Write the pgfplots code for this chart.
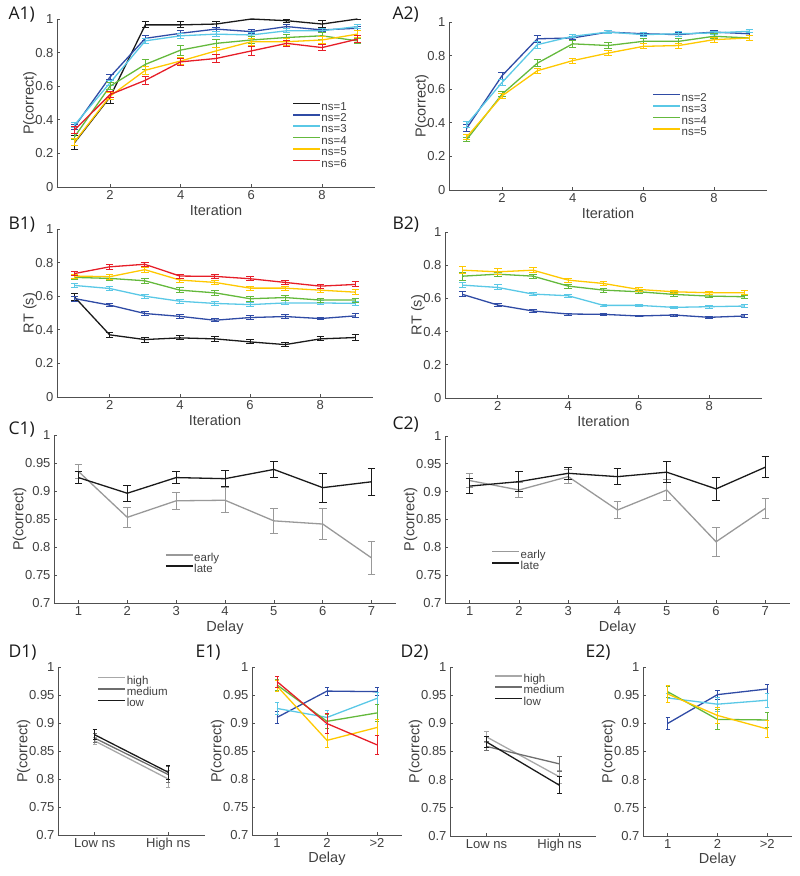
\documentclass[border=0pt]{standalone}
\usepackage{pgfplots}
\pgfplotsset{compat=1.18}
\usepackage{fontspec}
\setmainfont{Liberation Sans}
\newfontfamily\panelfont{Open Sans}
\definecolor{axc}{HTML}{505050}
\definecolor{txc}{HTML}{404040}
\definecolor{cblack}{HTML}{1A1A1A}
\definecolor{cblue}{HTML}{2F4BA5}
\definecolor{clblue}{HTML}{5AC8E6}
\definecolor{cgreen}{HTML}{64B93C}
\definecolor{cyellow}{HTML}{FFC800}
\definecolor{cred}{HTML}{E61E28}
\definecolor{cearly}{HTML}{999999}
\definecolor{dhigh}{HTML}{A8A8A8}
\definecolor{dmed}{HTML}{6E6E6E}
\definecolor{dlow}{HTML}{1A1A1A}
\newcommand\ftk{\fontsize{13}{13}\selectfont}
\newcommand\flb{\fontsize{14.5}{14.5}\selectfont}
\newcommand\flg{\fontsize{11.5}{11.5}\selectfont}
\newcommand\fpl{\panelfont\fontsize{17.5}{17.5}\selectfont}
\pgfplotsset{
 panel/.style={scale only axis, axis lines=left,
   axis line style={-,draw=axc,line width=0.7pt},
   every tick/.append style={draw=axc,line width=0.7pt},
   tick align=inside, major tick length=3pt,
   ticklabel style={font=\ftk,text=txc},
   every axis label/.append style={font=\flb,text=txc},
   ylabel shift=-8pt, xlabel shift=-2pt,
   /pgf/number format/assume math mode=true,
   /pgf/number format/fixed,
   clip=false,
   legend style={draw=none,fill=none,font=\flg,text=txc,anchor=north west,
     inner sep=0pt,outer sep=0pt,row sep=0pt,
     nodes={inner sep=0.5pt,text height=8.2pt,text depth=2.2pt}},
   legend cell align=left,
   legend image code/.code={\draw[##1,line width=1.6pt] (0pt,3.6pt) -- (27pt,3.6pt);}},
 ser/.style={color=#1,line width=1.3pt,mark=none,
   error bars/.cd,y dir=both,y explicit,
   error bar style={line width=1pt,color=#1},
   error mark options={rotate=90,line width=1pt,mark size=3.8pt,color=#1}},
 sers/.style={color=#1,line width=1.3pt,mark=none,
   error bars/.cd,y dir=both,y explicit,
   error bar style={line width=0.9pt,color=#1},
   error mark options={rotate=90,line width=0.9pt,mark size=2.2pt,color=#1}},
 pA/.style={panel,xmin=0.5,xmax=9.5,ymin=0,ymax=1,xtick={2,4,6,8},
   ytick={0,0.2,0.4,0.6,0.8,1},xlabel={Iteration}},
 pC/.style={panel,xmin=0.5,xmax=7.5,ymin=0.7,ymax=1,xtick={1,2,3,4,5,6,7},
   ytick={0.7,0.75,0.8,0.85,0.9,0.95,1},xlabel={Delay},ylabel={P(correct)}},
 pD/.style={panel,xmin=0.5,xmax=2.5,ymin=0.7,ymax=1,xtick={1,2},
   xticklabels={Low ns,High ns},
   ytick={0.7,0.75,0.8,0.85,0.9,0.95,1},ylabel={P(correct)}},
 pE/.style={panel,xmin=0.5,xmax=3.5,ymin=0.7,ymax=1,xtick={1,2,3},
   xticklabels={1,2,{>2}},
   ytick={0.7,0.75,0.8,0.85,0.9,0.95,1},xlabel={Delay},ylabel={P(correct)}},
}
\begin{document}
\begin{tikzpicture}
\useasboundingbox (0,0) rectangle (800pt,-876pt);
% ---------------- A1
\begin{axis}[pA,at={(57pt,-187pt)},anchor=south west,width=318pt,height=168pt,
  ylabel={P(correct)},legend style={at={(0.74,0.51)}}]
\addplot[ser=cblack] table[row sep=\\,y error index=2]{1 0.265 0.04\\2 0.535 0.035\\3 0.965 0.018\\4 0.965 0.018\\5 0.97 0.018\\6 1.0 0\\7 0.99 0.01\\8 0.97 0.02\\9 1.0 0\\};
\addplot[ser=cblue] table[row sep=\\,y error index=2]{1 0.36 0.015\\2 0.655 0.015\\3 0.885 0.015\\4 0.915 0.015\\5 0.94 0.012\\6 0.925 0.012\\7 0.955 0.01\\8 0.935 0.01\\9 0.945 0.012\\};
\addplot[ser=clblue] table[row sep=\\,y error index=2]{1 0.37 0.015\\2 0.62 0.015\\3 0.87 0.015\\4 0.9 0.015\\5 0.91 0.015\\6 0.905 0.012\\7 0.93 0.012\\8 0.93 0.012\\9 0.955 0.01\\};
\addplot[ser=cgreen] table[row sep=\\,y error index=2]{1 0.30 0.02\\2 0.60 0.02\\3 0.73 0.03\\4 0.815 0.03\\5 0.855 0.025\\6 0.875 0.02\\7 0.89 0.02\\8 0.9 0.02\\9 0.87 0.015\\};
\addplot[ser=cyellow] table[row sep=\\,y error index=2]{1 0.27 0.02\\2 0.54 0.02\\3 0.695 0.025\\4 0.75 0.02\\5 0.81 0.02\\6 0.865 0.02\\7 0.865 0.02\\8 0.875 0.02\\9 0.91 0.02\\};
\addplot[ser=cred] table[row sep=\\,y error index=2]{1 0.34 0.02\\2 0.55 0.02\\3 0.635 0.025\\4 0.745 0.02\\5 0.765 0.025\\6 0.81 0.025\\7 0.855 0.02\\8 0.83 0.02\\9 0.88 0.02\\};
\legend{ns=1,ns=2,ns=3,ns=4,ns=5,ns=6}
\end{axis}
% ---------------- A2
\begin{axis}[pA,at={(449pt,-190pt)},anchor=south west,width=318pt,height=168pt,
  ylabel={P(correct)},legend style={at={(0.64,0.58)}}]
\addplot[ser=cblue] table[row sep=\\,y error index=2]{1 0.367 0.02\\2 0.68 0.02\\3 0.90 0.02\\4 0.905 0.01\\5 0.94 0.01\\6 0.93 0.01\\7 0.925 0.01\\8 0.94 0.01\\9 0.93 0.01\\};
\addplot[ser=clblue] table[row sep=\\,y error index=2]{1 0.39 0.015\\2 0.64 0.02\\3 0.865 0.02\\4 0.915 0.01\\5 0.94 0.01\\6 0.925 0.01\\7 0.93 0.015\\8 0.935 0.01\\9 0.945 0.01\\};
\addplot[ser=cgreen] table[row sep=\\,y error index=2]{1 0.30 0.01\\2 0.57 0.015\\3 0.755 0.02\\4 0.87 0.02\\5 0.86 0.02\\6 0.885 0.015\\7 0.885 0.015\\8 0.915 0.015\\9 0.905 0.015\\};
\addplot[ser=cyellow] table[row sep=\\,y error index=2]{1 0.315 0.015\\2 0.56 0.015\\3 0.71 0.015\\4 0.77 0.015\\5 0.815 0.015\\6 0.855 0.015\\7 0.86 0.015\\8 0.895 0.015\\9 0.905 0.015\\};
\legend{ns=2,ns=3,ns=4,ns=5}
\end{axis}
% ---------------- B1
\begin{axis}[pA,at={(57pt,-397pt)},anchor=south west,width=316pt,height=168pt,
  ylabel={RT (s)}]
\addplot[ser=cblack] table[row sep=\\,y error index=2]{1 0.595 0.022\\2 0.37 0.015\\3 0.342 0.015\\4 0.352 0.012\\5 0.346 0.015\\6 0.328 0.012\\7 0.312 0.012\\8 0.346 0.012\\9 0.354 0.018\\};
\addplot[ser=cblue] table[row sep=\\,y error index=2]{1 0.586 0.015\\2 0.547 0.01\\3 0.497 0.012\\4 0.48 0.012\\5 0.457 0.01\\6 0.473 0.01\\7 0.479 0.01\\8 0.467 0.008\\9 0.483 0.012\\};
\addplot[ser=clblue] table[row sep=\\,y error index=2]{1 0.664 0.012\\2 0.646 0.012\\3 0.6 0.012\\4 0.57 0.012\\5 0.557 0.012\\6 0.55 0.012\\7 0.56 0.012\\8 0.56 0.012\\9 0.557 0.012\\};
\addplot[ser=cgreen] table[row sep=\\,y error index=2]{1 0.712 0.01\\2 0.706 0.01\\3 0.692 0.014\\4 0.636 0.014\\5 0.62 0.014\\6 0.585 0.015\\7 0.592 0.015\\8 0.577 0.012\\9 0.577 0.012\\};
\addplot[ser=cyellow] table[row sep=\\,y error index=2]{1 0.72 0.012\\2 0.716 0.014\\3 0.758 0.014\\4 0.696 0.012\\5 0.682 0.014\\6 0.648 0.012\\7 0.648 0.012\\8 0.636 0.012\\9 0.624 0.014\\};
\addplot[ser=cred] table[row sep=\\,y error index=2]{1 0.735 0.014\\2 0.775 0.014\\3 0.79 0.012\\4 0.72 0.012\\5 0.718 0.014\\6 0.704 0.012\\7 0.682 0.012\\8 0.66 0.012\\9 0.67 0.015\\};
\end{axis}
% ---------------- B2
\begin{axis}[pA,at={(445pt,-398pt)},anchor=south west,width=317pt,height=166pt,
  ylabel={RT (s)}]
\addplot[ser=cblue] table[row sep=\\,y error index=2]{1 0.624 0.015\\2 0.56 0.01\\3 0.524 0.008\\4 0.506 0.006\\5 0.504 0.006\\6 0.494 0.006\\7 0.5 0.006\\8 0.486 0.006\\9 0.494 0.008\\};
\addplot[ser=clblue] table[row sep=\\,y error index=2]{1 0.68 0.014\\2 0.666 0.015\\3 0.626 0.01\\4 0.616 0.008\\5 0.558 0.006\\6 0.558 0.008\\7 0.546 0.008\\8 0.55 0.01\\9 0.554 0.008\\};
\addplot[ser=cgreen] table[row sep=\\,y error index=2]{1 0.734 0.025\\2 0.746 0.012\\3 0.734 0.012\\4 0.674 0.012\\5 0.65 0.012\\6 0.64 0.01\\7 0.624 0.01\\8 0.614 0.01\\9 0.61 0.01\\};
\addplot[ser=cyellow] table[row sep=\\,y error index=2]{1 0.77 0.02\\2 0.76 0.018\\3 0.77 0.015\\4 0.71 0.012\\5 0.69 0.012\\6 0.654 0.01\\7 0.64 0.01\\8 0.634 0.01\\9 0.634 0.012\\};
\end{axis}
% ---------------- C1
\begin{axis}[pC,at={(54pt,-603pt)},anchor=south west,width=342pt,height=168pt,
  legend style={at={(0.325,0.30)}}]
\addplot[ser=cearly] table[row sep=\\,y error index=2]{1 0.935 0.012\\2 0.853 0.018\\3 0.8825 0.015\\4 0.8835 0.022\\5 0.8467 0.022\\6 0.841 0.027\\7 0.7805 0.03\\};
\addplot[ser=cblack] table[row sep=\\,y error index=2]{1 0.924 0.01\\2 0.896 0.014\\3 0.924 0.01\\4 0.922 0.014\\5 0.9385 0.014\\6 0.906 0.026\\7 0.9165 0.024\\};
\legend{early,late}
\end{axis}
% ---------------- C2
\begin{axis}[pC,at={(445pt,-603pt)},anchor=south west,width=345pt,height=167pt,
  legend style={at={(0.135,0.32)}}]
\addplot[ser=cearly] table[row sep=\\,y error index=2]{1 0.92 0.013\\2 0.903 0.013\\3 0.927 0.013\\4 0.867 0.016\\5 0.903 0.018\\6 0.81 0.026\\7 0.87 0.018\\};
\addplot[ser=cblack] table[row sep=\\,y error index=2]{1 0.910 0.013\\2 0.918 0.018\\3 0.933 0.011\\4 0.927 0.014\\5 0.935 0.019\\6 0.905 0.02\\7 0.944 0.019\\};
\legend{early,late}
\end{axis}
% ---------------- D1
\begin{axis}[pD,at={(58pt,-835pt)},anchor=south west,width=147pt,height=168pt,
  legend style={at={(0.27,0.95)}}]
\addplot[sers=dhigh] table[row sep=\\,y error index=2]{1 0.868 0.006\\2 0.800 0.015\\};
\addplot[sers=dmed] table[row sep=\\,y error index=2]{1 0.873 0.008\\2 0.808 0.015\\};
\addplot[sers=dlow] table[row sep=\\,y error index=2]{1 0.879 0.009\\2 0.812 0.012\\};
\legend{high,medium,low}
\end{axis}
% ---------------- E1
\begin{axis}[pE,at={(252pt,-835pt)},anchor=south west,width=150pt,height=168pt]
\addplot[sers=cblue] table[row sep=\\,y error index=2]{1 0.91 0.01\\2 0.957 0.007\\3 0.956 0.007\\};
\addplot[sers=clblue] table[row sep=\\,y error index=2]{1 0.926 0.01\\2 0.91 0.012\\3 0.944 0.01\\};
\addplot[sers=cgreen] table[row sep=\\,y error index=2]{1 0.968 0.01\\2 0.903 0.012\\3 0.918 0.015\\};
\addplot[sers=cyellow] table[row sep=\\,y error index=2]{1 0.966 0.01\\2 0.869 0.012\\3 0.892 0.015\\};
\addplot[sers=cred] table[row sep=\\,y error index=2]{1 0.974 0.01\\2 0.899 0.018\\3 0.861 0.017\\};
\end{axis}
% ---------------- D2
\begin{axis}[pD,at={(450pt,-836pt)},anchor=south west,width=146pt,height=169pt,
  legend style={at={(0.305,0.96)}}]
\addplot[sers=dhigh] table[row sep=\\,y error index=2]{1 0.876 0.01\\2 0.805 0.012\\};
\addplot[sers=dmed] table[row sep=\\,y error index=2]{1 0.859 0.008\\2 0.828 0.013\\};
\addplot[sers=dlow] table[row sep=\\,y error index=2]{1 0.867 0.01\\2 0.79 0.015\\};
\legend{high,medium,low}
\end{axis}
% ---------------- E2
\begin{axis}[pE,at={(643pt,-836pt)},anchor=south west,width=149pt,height=169pt]
\addplot[sers=cblue] table[row sep=\\,y error index=2]{1 0.9 0.01\\2 0.951 0.008\\3 0.961 0.008\\};
\addplot[sers=clblue] table[row sep=\\,y error index=2]{1 0.945 0.008\\2 0.934 0.012\\3 0.941 0.012\\};
\addplot[sers=cgreen] table[row sep=\\,y error index=2]{1 0.956 0.01\\2 0.907 0.017\\3 0.906 0.014\\};
\addplot[sers=cyellow] table[row sep=\\,y error index=2]{1 0.952 0.015\\2 0.914 0.015\\3 0.89 0.015\\};
\end{axis}
% ---------------- panel labels
\node[anchor=west,text=cblack,font=\fpl] at (5pt,-15pt) {A1)};
\node[anchor=west,text=cblack,font=\fpl] at (389pt,-15pt) {A2)};
\node[anchor=west,text=cblack,font=\fpl] at (5pt,-225pt) {B1)};
\node[anchor=west,text=cblack,font=\fpl] at (389pt,-225pt) {B2)};
\node[anchor=west,text=cblack,font=\fpl] at (5pt,-430pt) {C1)};
\node[anchor=west,text=cblack,font=\fpl] at (389pt,-425pt) {C2)};
\node[anchor=west,text=cblack,font=\fpl] at (5pt,-653pt) {D1)};
\node[anchor=west,text=cblack,font=\fpl] at (192pt,-653pt) {E1)};
\node[anchor=west,text=cblack,font=\fpl] at (397pt,-653pt) {D2)};
\node[anchor=west,text=cblack,font=\fpl] at (582pt,-653pt) {E2)};
\end{tikzpicture}
\end{document}
